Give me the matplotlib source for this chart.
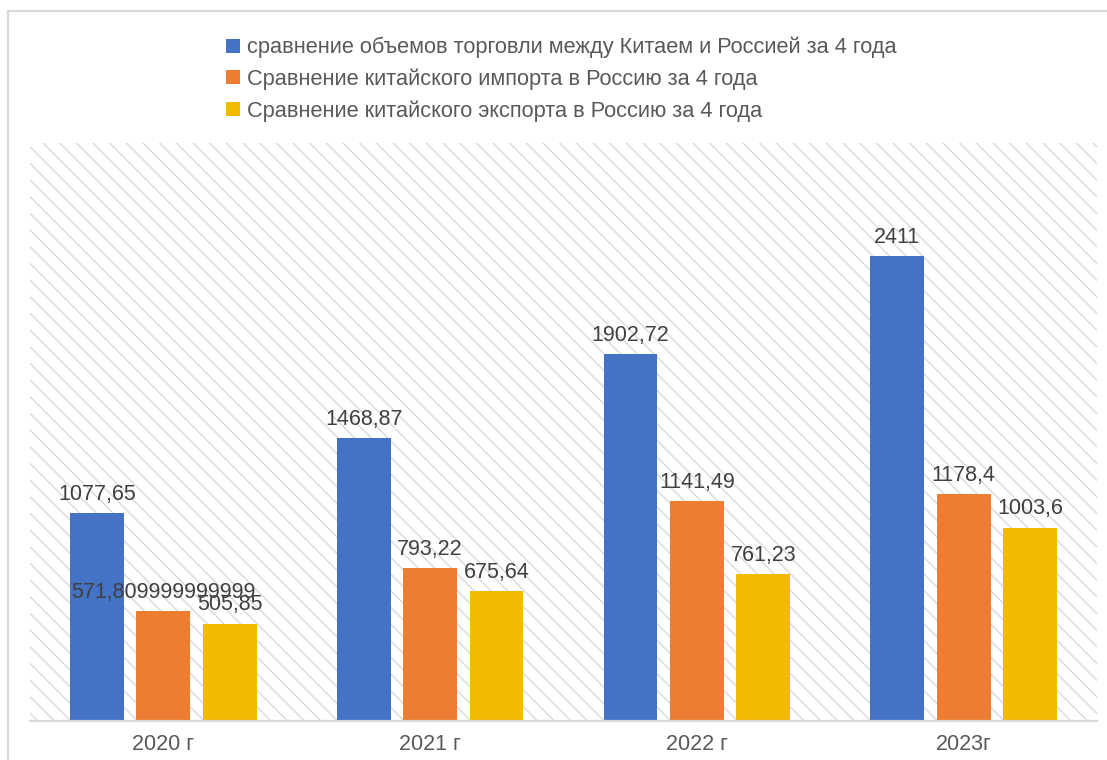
import numpy as np
import matplotlib
matplotlib.use('Agg')
from matplotlib import pyplot as plt
from matplotlib.patches import Rectangle

plt.rcParams['font.family'] = ['Liberation Sans', 'DejaVu Sans']
plt.rcParams['hatch.linewidth'] = 0.9

# data
years = ['2020 г', '2021 г', '2022 г', '2023г']
trade_total = [1077.65, 1468.87, 1902.72, 2411]
china_import = [571.809999999999, 793.22, 1141.49, 1178.4]
china_export = [505.85, 675.64, 761.23, 1003.6]
series_names = [
    'сравнение объемов торговли между Китаем и Россией за 4 года',
    'Сравнение китайского импорта в Россию за 4 года',
    'Сравнение китайского экспорта в Россию за 4 года',
]
colors = ['#4472C4', '#ED7D31', '#F2BA00']


def fmt(v):
    s = repr(v)
    if s.endswith('.0'):
        s = s[:-2]
    return s.replace('.', ',')


fig = plt.figure(figsize=(11.07, 7.6), dpi=100)
ax = fig.add_axes([30 / 1107, 39 / 760, 1067 / 1107, 578 / 760])

# outer chart frame (only left/top visible)
fig.patches.append(Rectangle((8 / 1107, -0.1), 1.2, 1.1 - 11 / 760,
                             transform=fig.transFigure, fill=False,
                             edgecolor='#d9d9d9', linewidth=1.6))

# hatched plot area
ax.patch.set_visible(False)
ax.add_patch(Rectangle((0, 0), 1, 1, transform=ax.transAxes, fill=False,
                       hatch='\\\\', edgecolor='#d6d6d6', linewidth=0, zorder=0))

x = np.arange(len(years))
w = 0.202
off = 0.249
bars = []
for i, vals in enumerate([trade_total, china_import, china_export]):
    b = ax.bar(x + (i - 1) * off, vals, width=w, color=colors[i],
               label=series_names[i], zorder=2)
    bars.append(b)
    for xi, v in zip(x + (i - 1) * off, vals):
        ax.annotate(fmt(v), (xi, v), xytext=(0, 9.5), textcoords='offset points',
                    ha='center', va='baseline', fontsize=15.5, color='#404040',
                    zorder=3)

ax.set_xlim(-0.5, 3.5)
ax.set_ylim(0, 3000)
ax.set_xticks(x)
ax.set_xticklabels(years, fontsize=15.5, color='#595959')
ax.tick_params(axis='x', length=0, pad=9)
ax.set_yticks([])
for s in ['top', 'left', 'right']:
    ax.spines[s].set_visible(False)
ax.spines['bottom'].set_color('#d9d9d9')
ax.spines['bottom'].set_linewidth(1.6)
ax.spines['bottom'].set_zorder(4)

fig.legend(handles=bars, labels=series_names, loc='upper left',
           bbox_to_anchor=(226 / 1107, 1 - 37 / 760), frameon=False,
           fontsize=15.7, labelcolor='#595959', handlelength=0.62,
           handleheight=0.62, handletextpad=0.33, labelspacing=0.46,
           borderpad=0, borderaxespad=0)

fig.savefig('out.png', dpi=100)
